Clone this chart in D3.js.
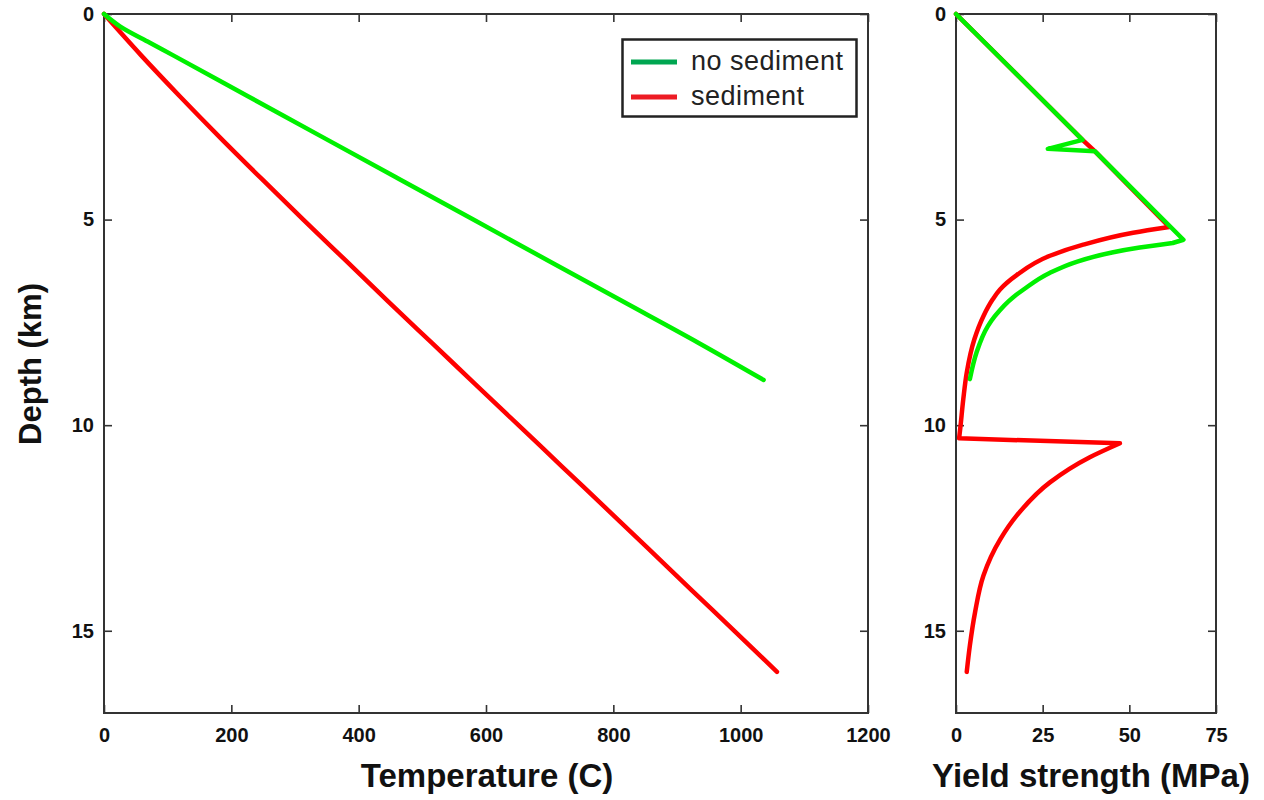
<!DOCTYPE html>
<html>
<head>
<meta charset="utf-8">
<script src="https://cdn.jsdelivr.net/npm/d3@7"></script>
<style>
  html, body { margin: 0; padding: 0; background: #fff; }
  svg { display: block; font-family: "Liberation Sans", Arial, Helvetica, sans-serif; }
  .tick text { font-weight: bold; font-size: 20px; fill: #111; }
  .tick line { stroke: #333; stroke-width: 1.6; }
</style>
</head>
<body>
<svg id="chart" width="1264" height="800"></svg>
<script>
// Temperature profiles (depth in km, temperature in °C)
const tempNoSedDepth = [0, 0.3, 0.7, 1, 2, 3, 4, 5, 6, 7, 8, 8.9];
const tempNoSedValue = [0, 25, 72, 108, 226, 344, 462, 580, 698, 816, 934, 1036];
const tempSedDepth = [0, 1, 2, 3, 4, 5, 6, 7, 8, 9, 10, 11, 12, 13, 14, 15, 16];
const tempSedValue = [0, 58, 119, 182, 247, 313, 380, 447, 515, 583, 651, 719, 787, 855, 922, 990, 1057];

// Yield strength profiles (depth in km, strength in MPa)
const yieldNoSedDepth = [0, 3.06, 3.28, 3.34, 5.49, 5.57, 5.68, 5.8, 6.02, 6.3, 6.7, 6.88, 7.35, 7.59, 8.24, 8.88];
const yieldNoSedValue = [0, 36.5, 26.5, 40.1, 65.6, 62.5, 53, 45, 35, 27, 19.5, 16.6, 11.2, 9.2, 5.9, 4.0];
const yieldSedDepth = [0, 3.06, 3.34, 5.18, 5.32, 5.61, 5.88, 6.35, 6.7, 6.94, 7.35, 7.91, 8.72, 9.37, 10.1, 10.32, 10.44, 10.78, 11.39, 12.2, 12.77, 13.66, 14.55, 15.36, 16.0];
const yieldSedValue = [0, 36.5, 40.1, 61.5, 51.1, 36.7, 27.1, 17.5, 12.7, 10.6, 7.9, 5.3, 3.1, 2.1, 1.2, 0.9, 47.3, 38.6, 27.1, 17.5, 12.8, 7.9, 5.5, 4.0, 3.1];

// Index runs of each profile drawn as smooth curves (the rest is straight)
const tempNoSedSmooth = [[0, tempNoSedDepth.length - 1]];
const tempSedSmooth = [[0, tempSedDepth.length - 1]];
const yieldNoSedSmooth = [[5, 15]];
const yieldSedSmooth = [[3, 15], [16, 24]];

// Axis ticks and labels
const depthTicks = [0, 5, 10, 15];
const tempTicks = [0, 200, 400, 600, 800, 1000, 1200];
const yieldTicks = [0, 25, 50, 75];
const seriesNames = ["no sediment", "sediment"];
const lineColors = { "no sediment": "#00f000", "sediment": "#ff0000" };
const legendColors = { "no sediment": "#00a651", "sediment": "#ed1c24" };

const svg = d3.select("#chart");

const plotTop = 14, plotBottom = 713;
const yDepth = d3.scaleLinear().domain([0, 17]).range([plotTop, plotBottom]);

function zip(depths, values) {
  return depths.map((d, i) => ({ depth: d, value: values[i] }));
}

function panel(x0, x1, domain, ticks) {
  const x = d3.scaleLinear().domain(domain).range([x0, x1]);
  const g = svg.append("g");
  const fmt = d3.format("d");

  // inward ticks on all four sides
  g.append("g").attr("transform", `translate(0,${plotBottom})`)
    .call(d3.axisBottom(x).tickValues(ticks).tickFormat(fmt).tickSize(-8).tickSizeOuter(0).tickPadding(15))
    .call(a => a.select(".domain").remove());
  g.append("g").attr("transform", `translate(0,${plotTop})`)
    .call(d3.axisTop(x).tickValues(ticks).tickSize(-8).tickSizeOuter(0).tickFormat(""))
    .call(a => a.select(".domain").remove());
  g.append("g").attr("transform", `translate(${x0},0)`)
    .call(d3.axisLeft(yDepth).tickValues(depthTicks).tickFormat(fmt).tickSize(-8).tickSizeOuter(0).tickPadding(10))
    .call(a => a.select(".domain").remove());
  g.append("g").attr("transform", `translate(${x1},0)`)
    .call(d3.axisRight(yDepth).tickValues(depthTicks).tickSize(-8).tickSizeOuter(0).tickFormat(""))
    .call(a => a.select(".domain").remove());

  g.selectAll("g").attr("font-family", null).attr("font-size", null);

  g.append("rect")
    .attr("x", x0).attr("y", plotTop)
    .attr("width", x1 - x0).attr("height", plotBottom - plotTop)
    .attr("fill", "none").attr("stroke", "#333").attr("stroke-width", 2);
  return { x, g };
}

// One continuous path: straight pieces between the smooth runs,
// monotone curves inside them.
function profilePath(p, pts, smoothRuns) {
  const pieces = [];
  let cursor = 0;
  smoothRuns.forEach(([s, e]) => {
    if (s > cursor) pieces.push({ a: cursor, b: s, curve: d3.curveLinear });
    pieces.push({ a: s, b: e, curve: d3.curveMonotoneY });
    cursor = e;
  });
  if (cursor < pts.length - 1) pieces.push({ a: cursor, b: pts.length - 1, curve: d3.curveLinear });
  let d = "";
  pieces.forEach((pc, k) => {
    let s = d3.line().curve(pc.curve)
      .x(v => p.x(v.value)).y(v => yDepth(v.depth))(pts.slice(pc.a, pc.b + 1));
    if (k > 0) s = s.replace(/^M/, "L");
    d += s;
  });
  return d;
}

function drawLine(p, data, smoothRuns, color) {
  p.g.append("path")
    .attr("d", profilePath(p, data, smoothRuns))
    .attr("fill", "none")
    .attr("stroke", color)
    .attr("stroke-width", 4.5)
    .attr("stroke-linejoin", "round")
    .attr("stroke-linecap", "round");
}

// Left panel: temperature
const left = panel(104, 868, [0, 1200], tempTicks);
drawLine(left, zip(tempSedDepth, tempSedValue), tempSedSmooth, lineColors["sediment"]);
drawLine(left, zip(tempNoSedDepth, tempNoSedValue), tempNoSedSmooth, lineColors["no sediment"]);

// Right panel: yield strength
const right = panel(956, 1216, [0, 75], yieldTicks);
drawLine(right, zip(yieldSedDepth, yieldSedValue), yieldSedSmooth, lineColors["sediment"]);
drawLine(right, zip(yieldNoSedDepth, yieldNoSedValue), yieldNoSedSmooth, lineColors["no sediment"]);

// Axis titles
svg.append("text")
  .attr("x", 487).attr("y", 787)
  .attr("text-anchor", "middle")
  .attr("font-size", 33).attr("font-weight", "bold").attr("fill", "#111")
  .text("Temperature (C)");
svg.append("text")
  .attr("x", 1091).attr("y", 787)
  .attr("text-anchor", "middle")
  .attr("font-size", 33).attr("font-weight", "bold").attr("fill", "#111")
  .text("Yield strength (MPa)");
svg.append("text")
  .attr("transform", "translate(41,364) rotate(-90)")
  .attr("text-anchor", "middle")
  .attr("font-size", 31).attr("font-weight", "bold").attr("fill", "#111")
  .text("Depth (km)");

// Legend
const legend = svg.append("g");
legend.append("rect")
  .attr("x", 622.5).attr("y", 39.5).attr("width", 234).attr("height", 77)
  .attr("fill", "#fff").attr("stroke", "#222").attr("stroke-width", 2.5);
seriesNames.forEach((name, i) => {
  const cy = 62 + i * 35;
  legend.append("line")
    .attr("x1", 631).attr("x2", 677).attr("y1", cy).attr("y2", cy)
    .attr("stroke", legendColors[name]).attr("stroke-width", 5);
  legend.append("text")
    .attr("x", 691).attr("y", cy + 7.5)
    .attr("font-size", 27).attr("letter-spacing", "0.5px").attr("fill", "#222")
    .text(name);
});
</script>
</body>
</html>
